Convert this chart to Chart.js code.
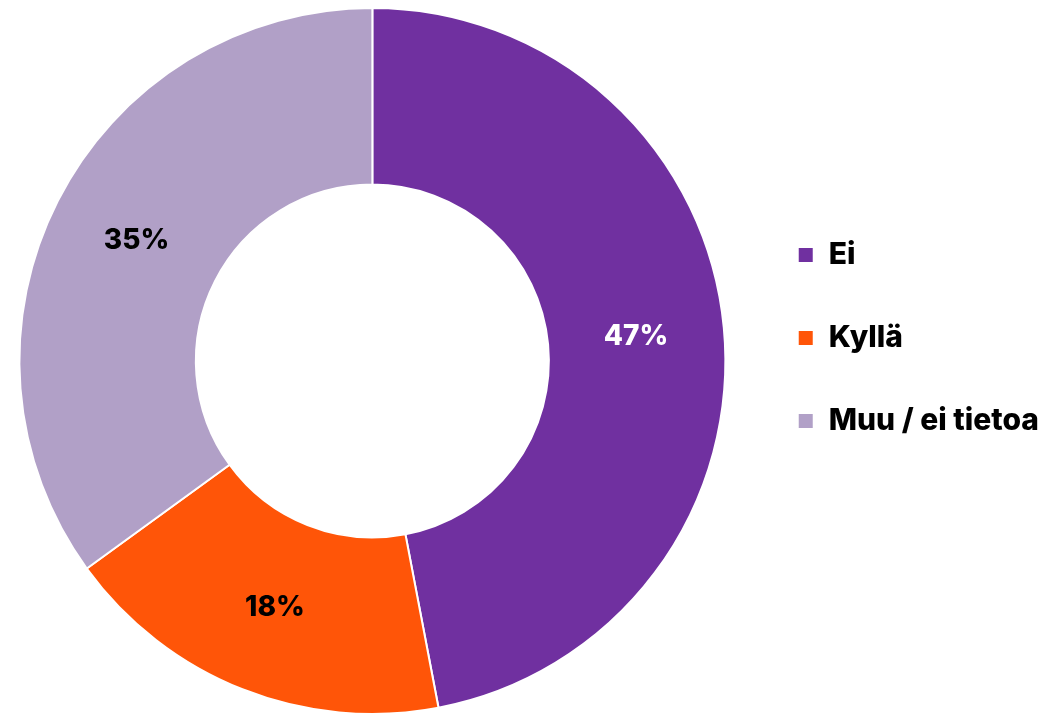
<!DOCTYPE html>
<html lang="fi">
<head>
  <meta charset="UTF-8">
  <title>Ei / Kyllä / Muu</title>
  <script src="https://cdn.jsdelivr.net/npm/chart.js"></script>
  <style>
    html, body { margin: 0; padding: 0; background: #fff; }
    #wrap { width: 1059px; height: 715px; }
  </style>
</head>
<body>
  <div id="wrap">
    <canvas id="myChart" width="1059" height="715"></canvas>
  </div>

  <script>
    // Vastausten jakauma
    const categories = ["Ei", "Kyllä", "Muu / ei tietoa"];
    const shares = [47, 18, 35];
    const sliceColors = ["#7030A0", "#FF5508", "#B1A0C7"];
    const labelColors = ["#ffffff", "#000000", "#000000"];

    const FONT = "Inter, Lato, sans-serif";

    // Prosenttiluvut jokaisen sektorin keskelle
    const sliceLabels = {
      id: "sliceLabels",
      afterDatasetsDraw(chart) {
        const ctx = chart.ctx;
        const meta = chart.getDatasetMeta(0);
        ctx.save();
        ctx.font = "800 28px " + FONT;
        ctx.textAlign = "center";
        ctx.textBaseline = "middle";
        meta.data.forEach((arc, i) => {
          const pos = arc.tooltipPosition();
          ctx.fillStyle = labelColors[i];
          ctx.fillText(shares[i] + "%", pos.x, pos.y);
        });
        ctx.restore();
      }
    };

    function drawChart() {
      const ctx = document.getElementById("myChart").getContext("2d");
      new Chart(ctx, {
        type: "doughnut",
        data: {
          labels: categories,
          datasets: [{
            data: shares,
            backgroundColor: sliceColors,
            borderColor: "#ffffff",
            borderWidth: 2,
            hoverOffset: 0
          }]
        },
        options: {
          responsive: false,
          animation: false,
          cutout: "50%",
          layout: { padding: { top: 7, bottom: -4, left: 0, right: 10 } },
          plugins: {
            tooltip: { enabled: false },
            legend: {
              position: "right",
              align: "start",
              title: {
                display: true,
                text: " ",
                font: { size: 10 },
                padding: { top: 168, bottom: 0 }
              },
              labels: {
                boxWidth: 16,
                boxHeight: 16,
                padding: 53,
                color: "#000",
                font: { family: FONT, size: 30, weight: "800" }
              }
            }
          }
        },
        plugins: [sliceLabels]
      });
    }

    document.addEventListener("DOMContentLoaded", drawChart);
  </script>
</body>
</html>
